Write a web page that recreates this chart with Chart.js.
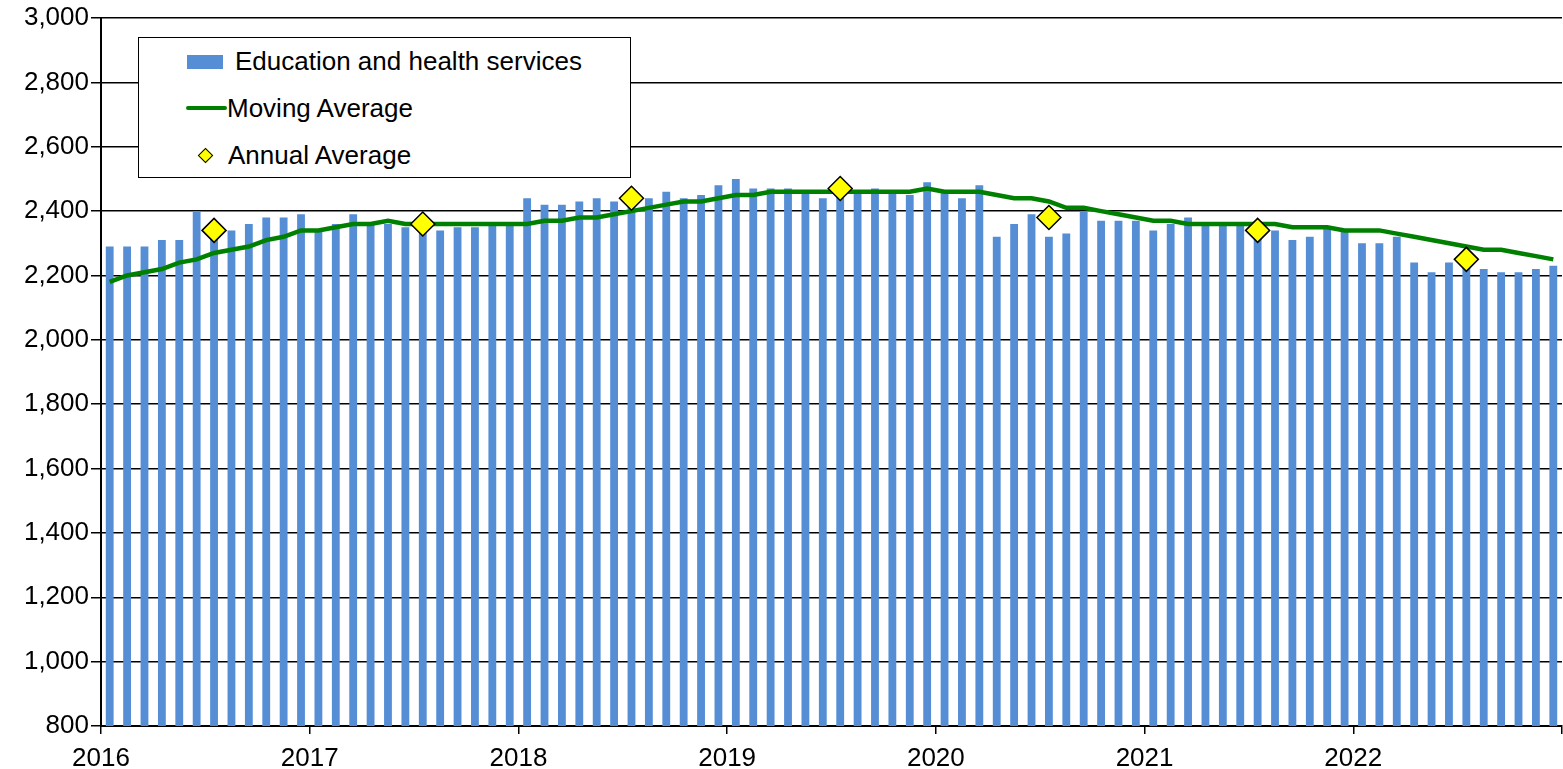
<!DOCTYPE html>
<html>
<head>
<meta charset="utf-8">
<script src="https://cdn.jsdelivr.net/npm/chart.js@4"></script>
<style>
  body { margin: 0; background: #fff; }
  #wrap { position: relative; width: 1563px; height: 769px; }
  #legend {
    position: absolute; left: 138px; top: 37px; width: 491px; height: 139px;
    border: 1.5px solid #000; background: #fff;
    font-family: "Liberation Sans", Arial, sans-serif; font-size: 26px; color: #000;
  }
  #legend .item { position: absolute; left: 0; white-space: nowrap; }
  #legend .sym { position: absolute; }
  #legend .txt { position: absolute; line-height: 30px; }
</style>
</head>
<body>
<div id="wrap">
  <canvas id="chart" width="1563" height="769"></canvas>
  <div id="legend"></div>
</div>
<script>
// months Jan 2016 .. Dec 2022
const yearLabels = ['2016', '2017', '2018', '2019', '2020', '2021', '2022'];

const monthlyValues = [
  2290, 2290, 2290, 2310, 2310, 2400, 2350, 2340, 2360, 2380, 2380, 2390,
  2340, 2360, 2390, 2360, 2360, 2350, 2360, 2340, 2350, 2350, 2360, 2360,
  2440, 2420, 2420, 2430, 2440, 2430, 2420, 2440, 2460, 2440, 2450, 2480,
  2500, 2470, 2470, 2470, 2460, 2440, 2470, 2460, 2470, 2460, 2450, 2490,
  2460, 2440, 2480, 2320, 2360, 2390, 2320, 2330, 2400, 2370, 2370, 2370,
  2340, 2360, 2380, 2360, 2360, 2360, 2330, 2340, 2310, 2320, 2350, 2340,
  2300, 2300, 2320, 2240, 2210, 2240, 2250, 2220, 2210, 2210, 2220, 2230
];

const movingAverage = [
  2180, 2200, 2210, 2220, 2240, 2250, 2270, 2280, 2290, 2310, 2320, 2340,
  2340, 2350, 2360, 2360, 2370, 2360, 2360, 2360, 2360, 2360, 2360, 2360,
  2360, 2370, 2370, 2380, 2380, 2390, 2400, 2410, 2420, 2430, 2430, 2440,
  2450, 2450, 2460, 2460, 2460, 2460, 2460, 2460, 2460, 2460, 2460, 2470,
  2460, 2460, 2460, 2450, 2440, 2440, 2430, 2410, 2410, 2400, 2390, 2380,
  2370, 2370, 2360, 2360, 2360, 2360, 2360, 2360, 2350, 2350, 2350, 2340,
  2340, 2340, 2330, 2320, 2310, 2300, 2290, 2280, 2280, 2270, 2260, 2250
];

const annualAverage = [2340, 2360, 2440, 2470, 2380, 2340, 2250];

const barColor = '#558ed5';
const lineColor = '#008000';
const diamondColor = '#ffff00';

// month i sits in the middle of its slot, annual points at July
const barData = monthlyValues.map((v, i) => ({ x: i + 0.5, y: v }));
const maData = movingAverage.map((v, i) => ({ x: i + 0.5, y: v }));
const annualData = annualAverage.map((v, k) => ({ x: k * 12 + 6.5, y: v }));

const font = { family: '"Liberation Sans", Arial, sans-serif', size: 26 };

const chart = new Chart(document.getElementById('chart'), {
  type: 'bar',
  data: {
    datasets: [
      {
        type: 'line',
        label: 'Annual Average',
        data: annualData,
        showLine: false,
        pointStyle: 'rectRot',
        pointRadius: 12,
        pointBackgroundColor: diamondColor,
        pointBorderColor: '#000',
        pointBorderWidth: 1.5,
        order: 0
      },
      {
        type: 'line',
        label: 'Moving Average',
        data: maData,
        borderColor: lineColor,
        borderWidth: 4.5,
        pointRadius: 0,
        tension: 0,
        order: 1
      },
      {
        label: 'Education and health services',
        data: barData,
        backgroundColor: barColor,
        barPercentage: 0.45,
        categoryPercentage: 1,
        order: 2
      }
    ]
  },
  options: {
    responsive: false,
    animation: false,
    layout: { autoPadding: false, padding: { top: 18, right: 1, left: 0, bottom: 0 } },
    plugins: { legend: { display: false }, tooltip: { enabled: false } },
    scales: {
      x: {
        type: 'linear',
        min: 0,
        max: 84,
        offset: false,
        afterFit: s => { s.height = 43; s.paddingLeft = 0; s.paddingRight = 0; },
        afterBuildTicks: s => { s.ticks = yearLabels.map((_, k) => ({ value: k * 12 })).concat([{ value: 84 }]); },
        ticks: {
          autoSkip: false,
          maxRotation: 0,
          color: '#000',
          font: font,
          padding: 9,
          callback: v => (v < 84 ? yearLabels[v / 12] : '')
        },
        grid: { drawOnChartArea: false, offset: false, color: '#000', lineWidth: 1.5, tickLength: 8 },
        border: { color: '#000', width: 2 }
      },
      y: {
        min: 800,
        max: 3000,
        afterFit: s => { s.width = 101; s.paddingTop = 0; s.paddingBottom = 0; },
        ticks: {
          stepSize: 200,
          color: '#000',
          font: font,
          padding: 2,
          callback: v => v.toLocaleString('en-US')
        },
        grid: { color: '#000', lineWidth: 1.5, tickLength: 10 },
        border: { color: '#000', width: 2 }
      }
    }
  }
});

// legend box inside the plot, built from the datasets
const legend = document.getElementById('legend');
const rows = [
  { ds: chart.data.datasets[2], top: 8, textLeft: 96 },
  { ds: chart.data.datasets[1], top: 55, textLeft: 88 },
  { ds: chart.data.datasets[0], top: 102, textLeft: 89 }
];
rows.forEach((r, idx) => {
  const item = document.createElement('div');
  item.className = 'item';
  item.style.top = r.top + 'px';
  const sym = document.createElement('div');
  sym.className = 'sym';
  if (idx === 0) {
    Object.assign(sym.style, { left: '48px', top: '9px', width: '36px', height: '14px', background: r.ds.backgroundColor });
  } else if (idx === 1) {
    Object.assign(sym.style, { left: '47px', top: '13px', width: '41px', height: '4px', background: r.ds.borderColor, borderRadius: '2px' });
  } else {
    Object.assign(sym.style, { left: '61px', top: '10px', width: '9px', height: '9px', background: r.ds.pointBackgroundColor, border: '1px solid #000', transform: 'rotate(45deg)' });
  }
  const txt = document.createElement('div');
  txt.className = 'txt';
  txt.style.left = r.textLeft + 'px';
  txt.style.top = '0px';
  txt.textContent = r.ds.label;
  item.appendChild(sym);
  item.appendChild(txt);
  legend.appendChild(item);
});
</script>
</body>
</html>
